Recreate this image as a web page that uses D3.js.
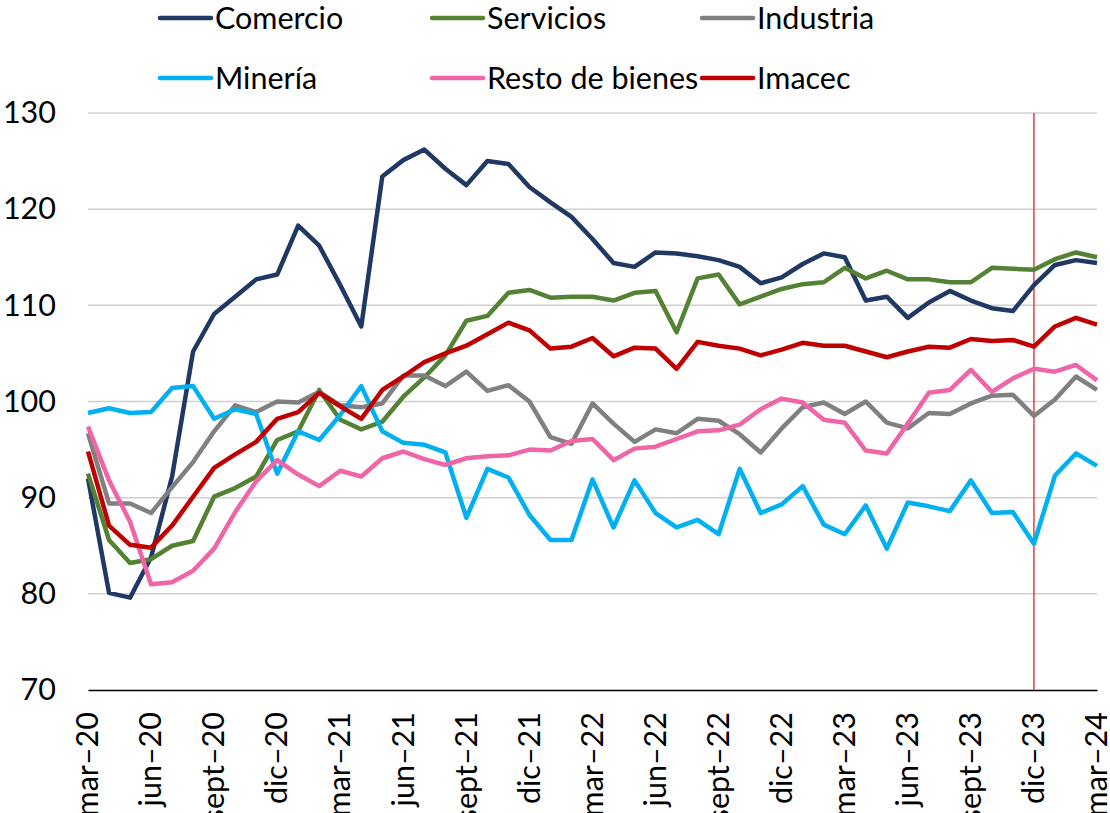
<!DOCTYPE html>
<html>
<head>
<meta charset="utf-8">
<script src="https://cdn.jsdelivr.net/npm/d3@7"></script>
<style>
  body { margin: 0; background: #fff; }
  text { font-family: Lato, "Noto Sans", sans-serif; fill: #000; }
</style>
</head>
<body>
<svg></svg>
<script>
const monthNames = ['mar', 'abr', 'may', 'jun', 'jul', 'ago', 'sept', 'oct', 'nov', 'dic', 'ene', 'feb'];
const months = [];
for (let i = 0; i < 49; i++) {
    const yr = 20 + Math.floor((i + 2) / 12);
    months.push(monthNames[i % 12] + '–' + yr);
}

const comercio = [92, 80.1, 79.6, 83.8, 92.2, 105.2, 109.1, 110.9, 112.7, 113.2, 118.3, 116.2, 112.1, 107.8, 123.4, 125.1, 126.2, 124.2, 122.5, 125.0, 124.7, 122.3, 120.7, 119.2, 116.9, 114.4, 114.0, 115.5, 115.4, 115.1, 114.7, 114.0, 112.3, 112.9, 114.3, 115.4, 115.0, 110.5, 110.9, 108.7, 110.3, 111.5, 110.5, 109.7, 109.4, 112.1, 114.2, 114.7, 114.4];
const servicios = [92.5, 85.6, 83.2, 83.6, 85.0, 85.5, 90.1, 91.0, 92.2, 96.0, 96.9, 101.2, 98.1, 97.1, 97.9, 100.5, 102.5, 104.8, 108.4, 108.9, 111.3, 111.6, 110.8, 110.9, 110.9, 110.5, 111.3, 111.5, 107.2, 112.8, 113.2, 110.1, 110.9, 111.7, 112.2, 112.4, 113.9, 112.8, 113.6, 112.7, 112.7, 112.4, 112.4, 113.9, 113.8, 113.7, 114.8, 115.5, 115.0];
const industria = [96.7, 89.4, 89.4, 88.4, 91.1, 93.7, 96.9, 99.6, 98.9, 100.0, 99.9, 101.0, 99.6, 99.4, 99.8, 102.7, 102.7, 101.6, 103.1, 101.1, 101.7, 100.0, 96.3, 95.6, 99.8, 97.7, 95.8, 97.1, 96.7, 98.2, 98.0, 96.6, 94.7, 97.2, 99.4, 99.9, 98.7, 100.0, 97.8, 97.2, 98.8, 98.7, 99.8, 100.6, 100.7, 98.5, 100.2, 102.6, 101.2];
const mineria = [98.8, 99.3, 98.8, 98.9, 101.4, 101.6, 98.2, 99.2, 98.7, 92.5, 96.9, 96.0, 98.6, 101.6, 96.9, 95.7, 95.5, 94.7, 87.9, 93.0, 92.1, 88.2, 85.6, 85.6, 91.9, 86.9, 91.8, 88.4, 86.9, 87.7, 86.2, 93.0, 88.4, 89.3, 91.2, 87.2, 86.2, 89.2, 84.7, 89.5, 89.1, 88.6, 91.8, 88.4, 88.5, 85.2, 92.3, 94.6, 93.3];
const restoBienes = [97.4, 91.8, 87.5, 81.0, 81.2, 82.4, 84.7, 88.5, 91.7, 93.9, 92.4, 91.2, 92.8, 92.2, 94.1, 94.8, 94.0, 93.4, 94.1, 94.3, 94.4, 95.0, 94.9, 95.9, 96.1, 93.9, 95.1, 95.3, 96.1, 96.9, 97.0, 97.6, 99.2, 100.3, 99.9, 98.1, 97.8, 94.9, 94.6, 97.7, 100.9, 101.2, 103.3, 101.0, 102.4, 103.4, 103.1, 103.8, 102.2];
const imacec = [94.8, 87.1, 85.1, 84.8, 87.1, 90.1, 93.1, 94.5, 95.8, 98.2, 98.9, 100.9, 99.5, 98.2, 101.2, 102.6, 104.1, 105.0, 105.8, 107.0, 108.2, 107.4, 105.5, 105.7, 106.6, 104.7, 105.6, 105.5, 103.4, 106.2, 105.8, 105.5, 104.8, 105.4, 106.1, 105.8, 105.8, 105.2, 104.6, 105.2, 105.7, 105.6, 106.5, 106.3, 106.4, 105.7, 107.8, 108.7, 108.0];

const yTicks = [70, 80, 90, 100, 110, 120, 130];
const markerMonth = 'dic–23';

const series = [
    { name: 'Comercio', values: comercio, color: '#1f3864' },
    { name: 'Servicios', values: servicios, color: '#548235' },
    { name: 'Industria', values: industria, color: '#808080' },
    { name: 'Minería', values: mineria, color: '#00b0f0' },
    { name: 'Resto de bienes', values: restoBienes, color: '#f064a8' },
    { name: 'Imacec', values: imacec, color: '#c00000' }
];

const WIDTH = 1110;
const HEIGHT = 813;
const LEFT = 88, RIGHT = 1097, TOP = 113, BOTTOM = 690;
const FONT_SIZE = 30.5;

const svg = d3.select('svg')
    .attr('width', WIDTH)
    .attr('height', HEIGHT);

const x = d3.scalePoint().domain(months).range([LEFT, RIGHT]);
const y = d3.scaleLinear().domain([70, 130]).range([BOTTOM, TOP]);

// gridlines
svg.append('g')
    .selectAll('line')
    .data(yTicks.filter(t => t > 70))
    .enter()
    .append('line')
    .attr('x1', LEFT)
    .attr('x2', RIGHT)
    .attr('y1', d => y(d))
    .attr('y2', d => y(d))
    .attr('stroke', '#d0d0d0')
    .attr('stroke-width', 1.5);

// y labels
const yAxis = svg.append('g')
    .attr('transform', `translate(${LEFT - 32}, 0)`)
    .call(d3.axisLeft(y).tickValues(yTicks).tickSize(0).tickPadding(0));
yAxis.select('.domain').remove();
yAxis.selectAll('text')
    .attr('font-size', FONT_SIZE)
    .attr('font-family', 'Lato, sans-serif')
    .attr('fill', '#000');

// x axis
const xAxis = svg.append('g')
    .attr('transform', `translate(0, ${BOTTOM})`)
    .call(d3.axisBottom(x).tickValues(months.filter((m, i) => i % 3 === 0)).tickSize(0));
xAxis.select('.domain')
    .attr('stroke', '#000')
    .attr('stroke-width', 1.5);
xAxis.selectAll('text')
    .attr('font-size', FONT_SIZE)
    .attr('font-family', 'Lato, sans-serif')
    .attr('fill', '#000')
    .attr('text-anchor', 'end')
    .attr('transform', 'rotate(-90)')
    .attr('x', -22)
    .attr('y', -1)
    .attr('dy', '0.35em');

// vertical marker
svg.append('line')
    .attr('x1', x(markerMonth))
    .attr('x2', x(markerMonth))
    .attr('y1', TOP)
    .attr('y2', BOTTOM)
    .attr('stroke', '#d04848')
    .attr('stroke-width', 1.5);

// lines
const line = d3.line()
    .x((d, i) => x(months[i]))
    .y(d => y(d));

svg.append('g')
    .selectAll('path')
    .data(series)
    .enter()
    .append('path')
    .attr('d', d => line(d.values))
    .attr('fill', 'none')
    .attr('stroke', d => d.color)
    .attr('stroke-width', 4.5)
    .attr('stroke-linejoin', 'round');

// legend
const legendPos = [[158, 18], [430, 18], [700, 18], [158, 78], [430, 78], [700, 78]];
const legend = svg.append('g')
    .selectAll('g')
    .data(series)
    .enter()
    .append('g')
    .attr('transform', (d, i) => `translate(${legendPos[i][0]}, ${legendPos[i][1]})`);

legend.append('line')
    .attr('x1', 2)
    .attr('x2', 53)
    .attr('stroke', d => d.color)
    .attr('stroke-width', 4.5)
    .attr('stroke-linecap', 'round');

legend.append('text')
    .attr('x', 57)
    .attr('dy', '0.35em')
    .attr('font-size', FONT_SIZE)
    .text(d => d.name);
</script>
</body>
</html>
